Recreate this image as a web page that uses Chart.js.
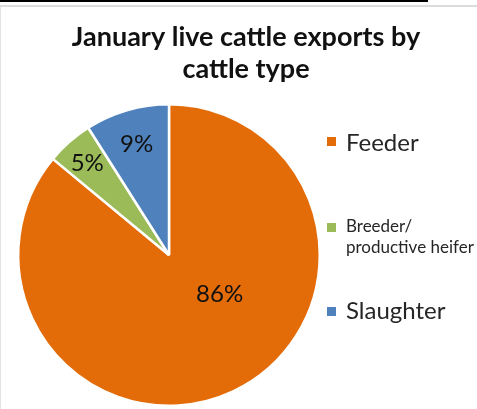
<!DOCTYPE html>
<html>
<head>
<meta charset="utf-8">
<script src="https://cdn.jsdelivr.net/npm/chart.js@4/dist/chart.umd.min.js"></script>
<style>
  html, body { margin: 0; padding: 0; background: #fff; }
  #wrap { position: relative; width: 477px; height: 409px; overflow: hidden; }
  #topbar { position: absolute; left: 0; top: 0; width: 428px; height: 2px; background: #000; }
  #rule { position: absolute; left: 0; top: 5px; width: 477px; height: 2px; background: #dcdcdc; }
  #side { position: absolute; left: 0; top: 7px; width: 1px; height: 402px; background: #e4e4e4; }
  canvas { position: absolute; left: 0; top: 0; }
</style>
</head>
<body>
<div id="wrap">
  <div id="topbar"></div>
  <div id="rule"></div>
  <div id="side"></div>
  <canvas id="c" width="477" height="409"></canvas>
</div>
<script>
// Cattle export shares for January
const titleLines = ['January live cattle exports by', 'cattle type'];
const categories = ['Feeder', 'Breeder/ productive heifer', 'Slaughter'];
const legendLines = [['Feeder'], ['Breeder/', 'productive heifer'], ['Slaughter']];
const shares = [86, 5, 9];
const sliceColors = ['#E36C09', '#9BBB59', '#4F81BD'];

const FONT = 'Lato, "Open Sans", sans-serif';

// Title, value labels and legend are painted on top of the pie
const decorations = {
  id: 'decorations',
  afterDraw(chart, args, opts) {
    const ctx = chart.ctx;
    ctx.save();
    ctx.fillStyle = '#111';
    ctx.textAlign = 'center';
    ctx.textBaseline = 'alphabetic';
    ctx.font = 'bold 27px ' + FONT;
    titleLines.forEach((t, i) => ctx.fillText(t, 246, 46 + i * 32));

    // percentage labels inside each slice
    const meta = chart.getDatasetMeta(0);
    const total = shares.reduce((a, b) => a + b, 0);
    ctx.font = '24px ' + FONT;
    ctx.textBaseline = 'middle';
    meta.data.forEach((arc, i) => {
      const p = arc.getProps(['x', 'y', 'startAngle', 'endAngle', 'outerRadius'], true);
      const a = p.startAngle + (p.endAngle - p.startAngle) * opts.along[i];
      const r = p.outerRadius * opts.radius[i];
      const pct = Math.round(shares[i] / total * 100) + '%';
      ctx.fillText(pct, p.x + Math.cos(a) * r, p.y + Math.sin(a) * r + 1);
    });

    // legend
    ctx.textAlign = 'left';
    opts.legendRows.forEach((row, i) => {
      ctx.fillStyle = sliceColors[i];
      ctx.fillRect(327, row.box, 9, 9);
      ctx.fillStyle = '#262626';
      ctx.font = row.size + 'px ' + FONT;
      ctx.textBaseline = 'alphabetic';
      legendLines[i].forEach((line, j) => ctx.fillText(line, 346, row.base + j * row.lead));
    });
    ctx.restore();
  }
};

new Chart(document.getElementById('c'), {
  type: 'pie',
  data: {
    labels: categories,
    datasets: [{
      data: shares,
      backgroundColor: sliceColors,
      borderColor: '#ffffff',
      borderWidth: 2.5
    }]
  },
  options: {
    responsive: false,
    animation: false,
    layout: { padding: { top: 103, bottom: 2, left: 17, right: 156 } },
    plugins: {
      legend: { display: false },
      title: { display: false },
      tooltip: { enabled: false },
      decorations: {
        along: [0.41, 0.5, 0.5],
        radius: [0.42, 0.82, 0.77],
        legendRows: [
          { box: 137, base: 151, size: 24, lead: 0 },
          { box: 223, base: 232, size: 17, lead: 21 },
          { box: 307, base: 319, size: 24, lead: 0 }
        ]
      }
    }
  },
  plugins: [decorations]
});
</script>
</body>
</html>
